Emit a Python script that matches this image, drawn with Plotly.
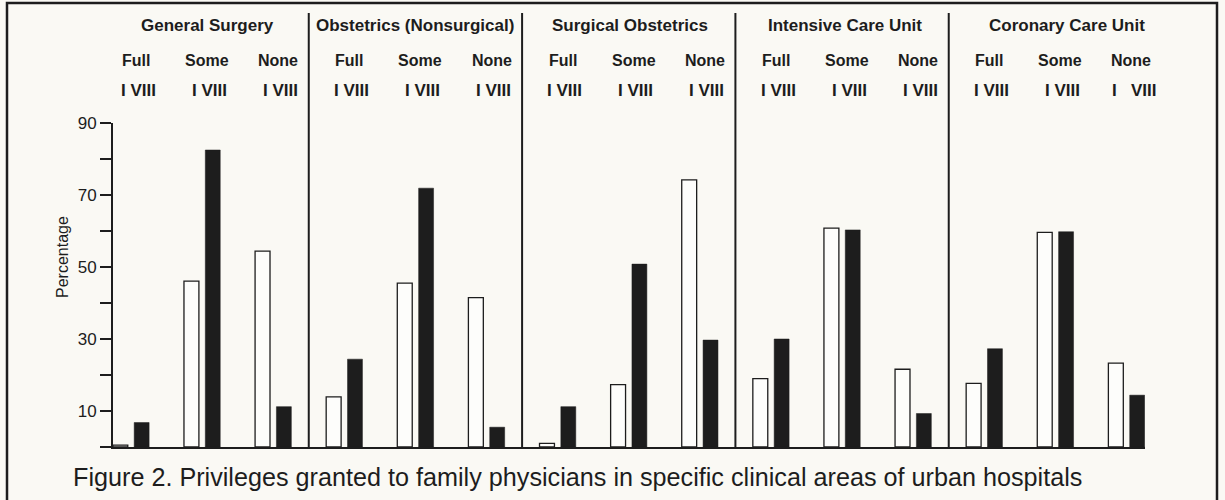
import plotly.graph_objects as go

# ---- data ----
panels = ["General Surgery", "Obstetrics (Nonsurgical)", "Surgical Obstetrics",
          "Intensive Care Unit", "Coronary Care Unit"]
levels = ["Full", "Some", "None"]
group_labels = ["I VIII"] * 14 + ["I\u00a0\u00a0 VIII"]
series_names = ["I", "VIII"]
values_I = [0.5, 46.1, 54.4, 13.9, 45.5, 41.5, 1.0, 17.3, 74.2, 19.0, 60.8, 21.6, 17.7, 59.6, 23.3]
values_VIII = [6.8, 82.5, 11.2, 24.4, 71.9, 5.5, 11.2, 50.8, 29.7, 30.0, 60.3, 9.3, 27.3, 59.8, 14.4]
y_ticks = [0, 10, 20, 30, 40, 50, 60, 70, 80, 90]
y_ticktext = ["", "10", "", "30", "", "50", "", "70", "", "90"]
caption = "Figure 2. Privileges granted to family physicians in specific clinical areas of urban hospitals"
y_title = "Percentage"

INK = "#1d1d1d"
BG = "#faf9f4"
W, H = 1225, 500
ML, MR, MT, MB = 113, 80, 123, 53
PW, PH = W - ML - MR, H - MT - MB
FONT = "Liberation Sans, Arial, sans-serif"


def px_x(px):
    return (px - ML) / PW


def px_y(py):
    return (H - MB - py) / PH


n_groups = len(panels) * len(levels)
xs = list(range(n_groups))

fig = go.Figure()
fig.add_trace(go.Bar(
    x=xs, y=values_I, name=series_names[0], width=0.21, offset=-0.255,
    marker=dict(color="#fdfdfb", line=dict(color=INK, width=1.3)),
    hoverinfo="y"))
fig.add_trace(go.Bar(
    x=xs, y=values_VIII, name=series_names[1], width=0.21, offset=0.045,
    marker=dict(color=INK, line=dict(color=INK, width=0.5)),
    hoverinfo="y"))

header_shift = [0.08, 0.0, 0.02, 0.04, 0.16]
annotations = []
shapes = []
for p, name in enumerate(panels):
    center = p * 3 + 1
    annotations.append(dict(
        x=center + header_shift[p], y=px_y(25), xref="x", yref="paper",
        text=f"<b>{name}</b>", showarrow=False, xanchor="center", yanchor="middle",
        font=dict(size=17, color=INK, family=FONT)))
    for j, lev in enumerate(levels):
        g = p * 3 + j
        annotations.append(dict(
            x=g + 0.07, y=px_y(60), xref="x", yref="paper", text=f"<b>{lev}</b>",
            showarrow=False, xanchor="center", yanchor="middle",
            font=dict(size=16, color=INK, family=FONT)))
        annotations.append(dict(
            x=g + 0.1, y=px_y(90), xref="x", yref="paper", text=f"<b>{group_labels[g]}</b>",
            showarrow=False, xanchor="center", yanchor="middle",
            font=dict(size=17, color=INK, family=FONT)))
    if p > 0:
        shapes.append(dict(type="line", xref="x", yref="paper",
                           x0=p * 3 - 0.5, x1=p * 3 - 0.5, y0=0, y1=px_y(13),
                           line=dict(color=INK, width=2)))

annotations.append(dict(
    x=px_x(62), y=px_y(257), xref="paper", yref="paper", text=y_title,
    textangle=-90, showarrow=False, xanchor="center", yanchor="middle",
    font=dict(size=16, color=INK, family=FONT)))
annotations.append(dict(
    x=px_x(71), y=px_y(477), xref="paper", yref="paper", text=caption,
    showarrow=False, xanchor="left", yanchor="middle",
    font=dict(size=25.2, color=INK, family=FONT)))

# outer frame
shapes.append(dict(type="rect", xref="paper", yref="paper",
                   x0=px_x(7), x1=px_x(1217), y0=px_y(503), y1=px_y(3),
                   line=dict(color=INK, width=2.5), fillcolor="rgba(0,0,0,0)", layer="below"))

fig.update_layout(
    width=W, height=H, margin=dict(l=ML, r=MR, t=MT, b=MB),
    paper_bgcolor=BG, plot_bgcolor=BG, barmode="overlay", showlegend=False,
    annotations=annotations, shapes=shapes,
    font=dict(family=FONT, color=INK),
    xaxis=dict(range=[-0.253, 14.26], showline=True, linecolor=INK, linewidth=2,
               showticklabels=False, ticks="", showgrid=False, zeroline=False, fixedrange=True),
    yaxis=dict(range=[0, 90], showline=True, linecolor=INK, linewidth=2,
               tickmode="array", tickvals=y_ticks, ticktext=y_ticktext,
               ticks="outside", ticklen=11, tickwidth=1.5, tickcolor=INK,
               tickfont=dict(size=17, color=INK), showgrid=False, zeroline=False, fixedrange=True),
)

fig.write_html("out.html", config={"displayModeBar": False},
               post_script="document.body.style.margin='0px';document.body.style.overflow='hidden';")
